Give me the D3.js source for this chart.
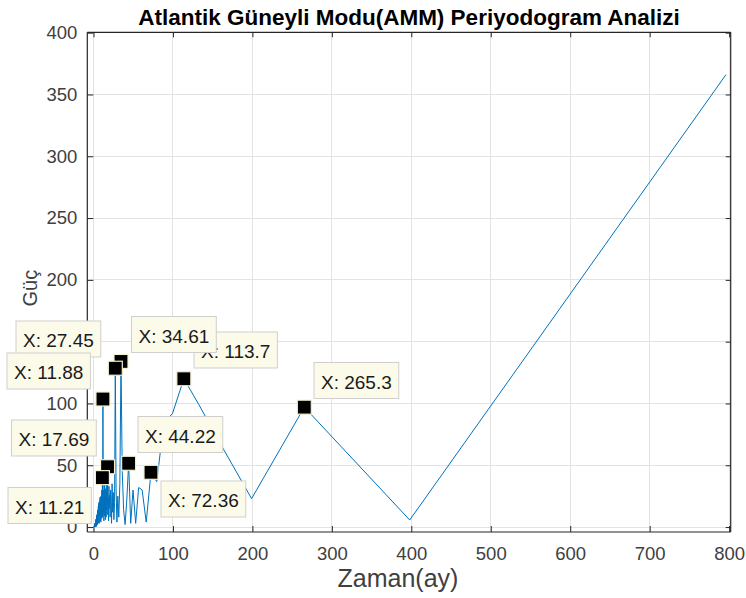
<!DOCTYPE html>
<html><head><meta charset="utf-8">
<script src="https://cdn.jsdelivr.net/npm/d3@7"></script>
<style>
body{margin:0;background:#fff}
svg{display:block}
text{font-family:"Liberation Sans",Arial,Helvetica,sans-serif}
</style>
</head><body>
<svg id="chart" width="746" height="598"></svg>
<script>
// ---- DATA ----
const seriesLength = 796; // number of monthly samples; period = seriesLength / harmonic
// periodogram power for harmonic k = 1 .. 398 (index 0 -> k = 1)
const power = [
366, 5.7, 97, 23, 68, 99, 120, 92, 84, 36.7,
44.3, 4, 30, 32, 3, 30, 3, 51.6, 22, 2,
14, 45, 134, 35, 8, 25, 4, 30, 128.5, 20,
6, 28, 12, 35, 3, 22, 30, 8, 26, 15,
33, 5, 24, 18, 48.8, 10, 30, 14, 36, 8,
25, 31, 6, 22, 28, 12, 34, 9, 20, 26,
5, 30, 16, 24, 11, 28, 103.6, 15, 26, 8,
40, 18, 27, 10, 24, 30, 7, 21, 26, 12,
22, 9, 25, 14, 19, 4, 23, 17, 11, 24, 6, 20, 15, 22, 8, 18, 24, 10, 16,
19, 7, 14, 20, 11, 5, 17, 13, 19, 8, 15, 3, 18, 12, 16, 9, 20, 6, 13, 17,
10, 14, 4, 18, 11, 15, 7, 16, 12, 9, 17, 5, 13, 14,
12, 6, 13, 9, 3, 11, 14, 7, 10, 5, 12, 8, 13, 4, 9, 11, 6, 12, 10, 3,
8, 13, 7, 11, 5, 9,
9, 4, 7, 10, 3, 8, 6, 9, 2, 7, 10, 5, 8, 4, 9, 6, 3, 8, 7, 10,
5, 9, 4, 6, 8, 2, 7, 9, 5, 8, 3, 6, 9, 4, 7, 8, 5, 6, 3, 7,
5, 2, 6, 3, 4, 6, 1, 5, 3, 6, 4, 2, 5, 6, 3, 4, 1, 5, 6, 2,
4, 5, 3, 6, 2, 4, 5, 1, 3, 6, 4, 5, 2, 3, 6, 4, 1, 5, 3, 4,
6, 2, 5, 3, 4, 1, 6, 3, 5, 2, 4, 5, 3, 2, 6, 4, 1, 3, 5, 4,
2, 5, 3, 4, 2, 3,
2, 1, 3, 1.5, 2.5, 0.5, 3, 2, 1, 2.5, 1.5, 3, 0.5, 2, 2.5, 1, 3, 1.5, 2, 0.5,
2.5, 1, 3, 2, 1.5, 0.5, 2.5, 3, 1, 2, 1.5, 2.5, 0.5, 3, 2, 1, 2.5, 1.5, 3, 0.5,
2, 1, 2.5, 3, 1.5, 0.5, 2, 2.5, 1, 3, 1.5, 2, 0.5, 2.5, 1, 3, 2, 1.5, 0.5, 2.5,
3, 1, 2, 1.5, 2.5, 0.5, 3, 2, 1, 2.5, 1.5, 0.5, 2, 3, 1, 2.5, 1.5, 2, 0.5, 3,
2.5, 1, 1.5, 2, 0.5, 2.5, 3, 1, 2, 1.5, 0.5, 2.5, 1, 2, 3, 1.5, 0.5, 2, 2.5, 1,
1.5, 2, 0.5, 1, 2.5, 1.5, 0.5, 2, 1, 1.5, 0.5, 1, 2, 0.5, 1.5, 1, 0.5, 1.5, 1, 0.5,
1, 0.5, 1.5, 0.5, 1, 0.5, 0.8, 0.4, 1, 0.5, 0.6, 0.3, 0.5
];
const xTicks = [0, 100, 200, 300, 400, 500, 600, 700, 800];
const yTicks = [0, 50, 100, 150, 200, 250, 300, 350, 400];
// data tips: harmonic numbers that carry a tip, in drawing order
const tipHarmonics = [7, 23, 29, 67, 3, 45, 18, 11, 71];
// tip box top-left corners (layout only), same order
const tipBoxPos = [[194, 332], [131.5, 316.5], [16, 321], [7, 353], [314, 362.5], [11.5, 420], [138, 416.5], [161, 481], [8, 487.5]];

const titleText = "Atlantik Güneyli Modu(AMM) Periyodogram Analizi";
const xLabel = "Zaman(ay)";
const yLabel = "Güç";

// ---- DRAW ----
(function () {
const svg = d3.select("#chart");
const L = 87.3, R = 730.7, T = 32.3, B = 532;
const x = d3.scaleLinear().domain([-7.8, 802]).range([L, R]);
const y = d3.scaleLinear().domain([-4, 400.3]).range([B, T]);

const pts = power.map((p, i) => ({period: seriesLength / (i + 1), power: p}));

// grid
const g = svg.append("g");
g.selectAll(".gx").data(xTicks).join("line")
  .attr("x1", d => x(d)).attr("x2", d => x(d)).attr("y1", T).attr("y2", B)
  .attr("stroke", "#e3e3e3").attr("stroke-width", 1).attr("shape-rendering", "crispEdges");
g.selectAll(".gy").data(yTicks).join("line")
  .attr("y1", d => y(d)).attr("y2", d => y(d)).attr("x1", L).attr("x2", R)
  .attr("stroke", "#e3e3e3").attr("stroke-width", 1).attr("shape-rendering", "crispEdges");

// axes
const axisColor = "#262626";
const axB = svg.append("g").attr("transform", `translate(0,${B})`)
  .call(d3.axisBottom(x).tickValues(xTicks).tickSize(-6).tickPadding(15).tickFormat(d3.format("d")));
const axT = svg.append("g").attr("transform", `translate(0,${T})`)
  .call(d3.axisTop(x).tickValues(xTicks).tickSize(-5).tickFormat(""));
const axL = svg.append("g").attr("transform", `translate(${L},0)`)
  .call(d3.axisLeft(y).tickValues(yTicks).tickSize(-6).tickPadding(10).tickFormat(d3.format("d")));
const axR = svg.append("g").attr("transform", `translate(${R},0)`)
  .call(d3.axisRight(y).tickValues(yTicks).tickSize(-5).tickFormat(""));
[axB, axT, axL, axR].forEach(a => {
  a.select(".domain").attr("stroke", axisColor).attr("stroke-width", 1.2);
  a.selectAll(".tick line").attr("stroke", axisColor).attr("stroke-width", 1);
  a.selectAll(".tick text").attr("fill", "#404040").style("font-size", "18.5px")
    .style("font-family", '"Liberation Sans",Arial,sans-serif');
});
axB.select(".domain").attr("d", `M${L},0H${R}`);
axT.select(".domain").attr("d", `M${L},0H${R}`);
axL.select(".domain").attr("d", `M0,${B}V${T}`);
axR.select(".domain").attr("d", `M0,${B}V${T}`);

// line
svg.append("path").datum(pts)
  .attr("fill", "none").attr("stroke", "#0072BD").attr("stroke-width", 1)
  .attr("stroke-linejoin", "round")
  .attr("d", d3.line().x(d => x(d.period)).y(d => y(d.power)));

// tips
const fmt = d3.format(".4r");
const tips = tipHarmonics.map((k, i) => ({p: pts[k - 1], label: "X: " + fmt(seriesLength / k), pos: tipBoxPos[i]}));
const mk = svg.append("g");
tips.forEach(t => {
  mk.append("rect").attr("x", x(t.p.period) - 7).attr("y", y(t.p.power) - 7)
    .attr("width", 14).attr("height", 14).attr("fill", "#000")
    .attr("stroke", "#f4f0d0").attr("stroke-width", 1.2);
});
const tb = svg.append("g");
tips.forEach(t => {
  const gg = tb.append("g");
  const rect = gg.append("rect");
  const tx = gg.append("text").attr("x", t.pos[0] + 7).attr("y", t.pos[1] + 26)
    .attr("fill", "#1a1a1a").style("font-size", "19px").text(t.label);
  const w = tx.node().getComputedTextLength() + 14;
  rect.attr("x", t.pos[0]).attr("y", t.pos[1]).attr("width", w).attr("height", 36)
    .attr("fill", "#fcfbea").attr("stroke", "#cfcfcf").attr("stroke-width", 1);
});

// title and labels
svg.append("text").attr("x", (L + R) / 2).attr("y", 25).attr("text-anchor", "middle")
  .attr("fill", "#000").style("font-size", "22.5px").style("font-weight", "bold").text(titleText);
svg.append("text").attr("x", (L + R) / 2 - 11).attr("y", 587).attr("text-anchor", "middle")
  .attr("fill", "#404040").style("font-size", "25px").text(xLabel);
svg.append("text").attr("transform", `translate(37,${(T + B) / 2 + 6}) rotate(-90)`).attr("text-anchor", "middle")
  .attr("fill", "#404040").style("font-size", "20px").text(yLabel);
})();
</script>
</body></html>
